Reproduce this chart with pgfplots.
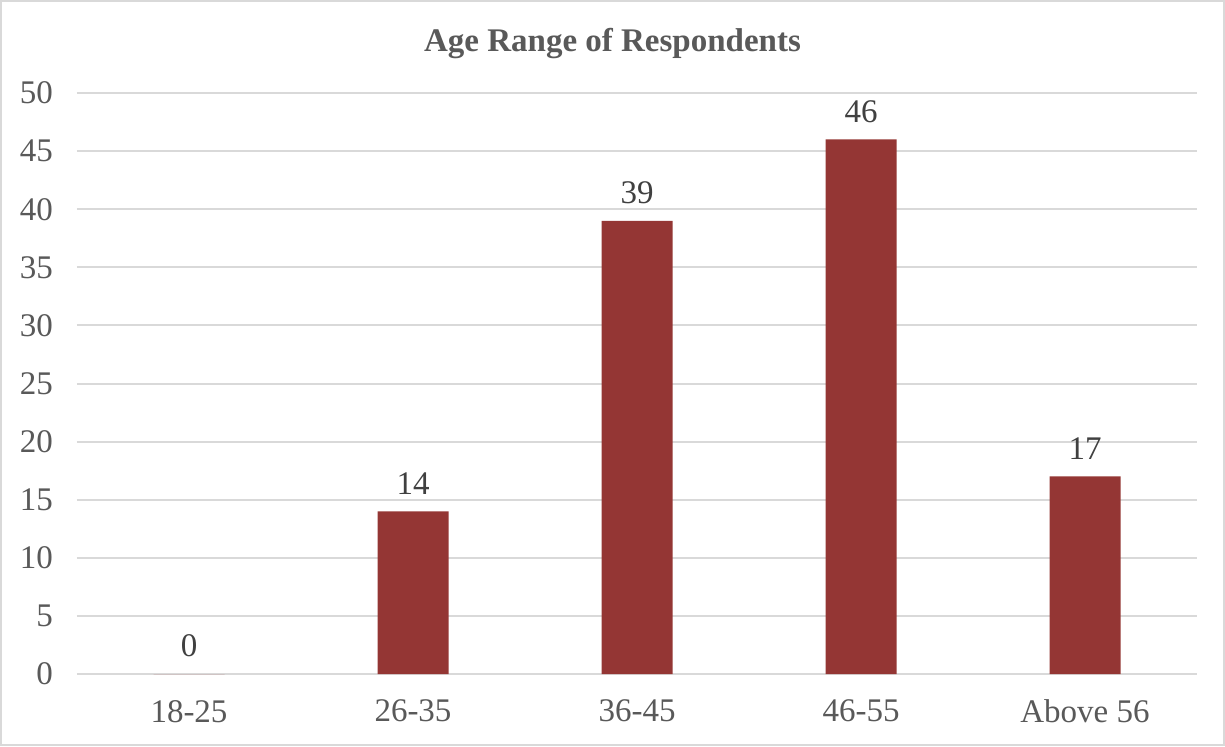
\documentclass[border=0pt]{standalone}
\usepackage{pgfplots}
\pgfplotsset{compat=1.18}
\usepackage{fontspec}
\setmainfont{Liberation Serif}
\definecolor{barred}{HTML}{943634}
\definecolor{gridgray}{HTML}{D9D9D9}
\definecolor{txtgray}{HTML}{595959}
\definecolor{lblgray}{HTML}{404040}
\begin{document}
\begin{tikzpicture}
\useasboundingbox (0,0) rectangle (612.5pt,373pt);
\fill[white] (0,0) rectangle (612.5pt,373pt);
\draw[gridgray, line width=1pt] (0.5pt,0.5pt) rectangle (612pt,372.5pt);
\begin{axis}[
  at={(38.5pt,36pt)}, anchor=south west,
  scale only axis, width=560pt, height=290.5pt,
  xmin=-0.5, xmax=4.5, ymin=0, ymax=50,
  ytick={0,5,...,50},
  xtick={0,1,2,3,4},
  xticklabels={18-25,26-35,36-45,46-55,Above 56},
  axis line style={draw=none},
  major tick length=0pt,
  ymajorgrids, grid style={gridgray, line width=1pt},
  /pgf/number format/assume math mode=true,
  ticklabel style={font=\fontsize{16.5}{19}\selectfont, text=txtgray},
  yticklabel style={xshift=-8.5pt},
  xticklabel style={yshift=-9.5pt},
  ybar, bar width=35.5pt,
  nodes near coords,
  nodes near coords style={font=\fontsize{16.5}{19}\selectfont, text=lblgray, yshift=5pt},
]
\addplot[fill=barred, draw=none] coordinates {(0,0) (1,14) (2,39) (3,46) (4,17)};
\end{axis}
\node[anchor=base, font=\bfseries\fontsize{16.5}{19}\selectfont, text=txtgray] at (306.25pt,347.2pt) {Age Range of Respondents};
\end{tikzpicture}
\end{document}
